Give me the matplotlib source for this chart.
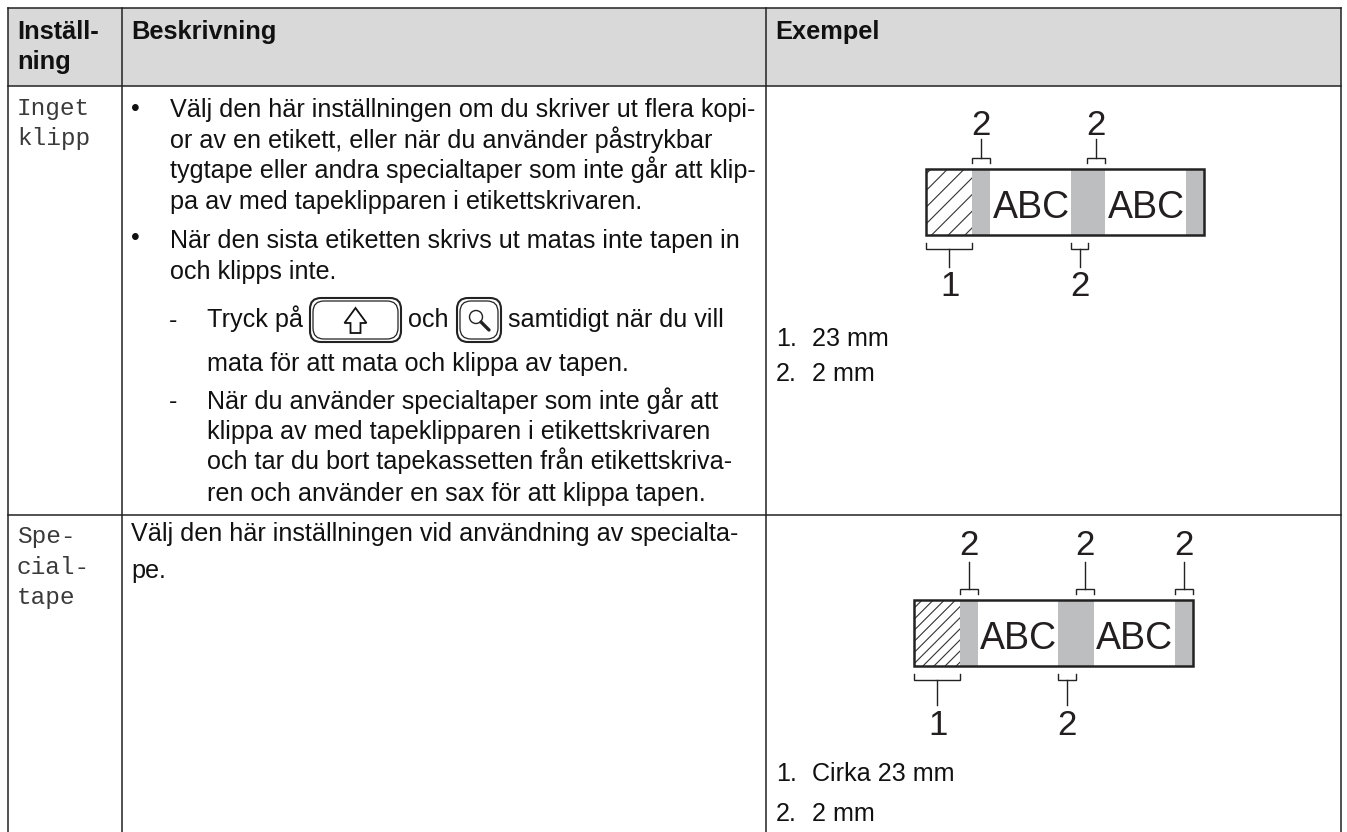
#!/usr/bin/env python3
"""Settings table with two label diagrams, drawn in pixel coordinates."""

import matplotlib
matplotlib.use("Agg")
import matplotlib.pyplot as plt
from matplotlib.patches import FancyBboxPatch, Rectangle, Polygon, Circle

plt.rcParams['font.family'] = ['Liberation Sans', 'DejaVu Sans']
plt.rcParams['hatch.linewidth'] = 0.8

W, H = 1347, 832

HEADERS = ["Inställ-\nning", "Beskrivning", "Exempel"]
ROW_NAMES = ["Inget\nklipp", "Spe-\ncial-\ntape"]

DESC_1A = ["Välj den här inställningen om du skriver ut flera kopi-",
           "or av en etikett, eller när du använder påstrykbar",
           "tygtape eller andra specialtaper som inte går att klip-",
           "pa av med tapeklipparen i etikettskrivaren."]
DESC_1B = ["När den sista etiketten skrivs ut matas inte tapen in",
           "och klipps inte."]
DESC_1C = ["När du använder specialtaper som inte går att",
           "klippa av med tapeklipparen i etikettskrivaren",
           "och tar du bort tapekassetten från etikettskriva-",
           "ren och använder en sax för att klippa tapen."]
DESC_2 = ["Välj den här inställningen vid användning av specialta-", "pe."]
NOTES_1 = [("1.", "23 mm"), ("2.", "2 mm")]
NOTES_2 = [("1.", "Cirka 23 mm"), ("2.", "2 mm")]

# diagram layout: box, gray stripes, text centres, bracket spans
BOX_1 = (926, 169, 1204, 235)
BOX_2 = (914, 600, 1193, 666)
GRAY_1 = [(972, 990), (1071, 1105), (1186, 1204)]
GRAY_2 = [(960, 978), (1058, 1094), (1175, 1193)]
ABC_1 = [1031, 1146]
ABC_2 = [1018, 1134]
TOP_2_1 = [(972, 990), (1087, 1105)]
TOP_2_2 = [(960, 978), (1076, 1094), (1175, 1193)]
BOT_2_1 = (1071, 1088)
BOT_2_2 = (1058, 1076)

TEXT = '#111111'
FS = 18.1
HEAD_FS = 18.3
LINE = '#222222'


def label_text(ax, x, y, s, **kw):
    kw.setdefault('fontsize', FS)
    kw.setdefault('color', TEXT)
    kw.setdefault('va', 'baseline')
    ax.text(x, y, s, **kw)


def bracket(ax, x0, x1, y_bar, y_tip, y_end):
    """Small bracket with a stem going up or down to its number."""
    mid = (x0 + x1) / 2
    ax.plot([x0, x0, x1, x1], [y_tip, y_bar, y_bar, y_tip], color=LINE, lw=1, solid_joinstyle='miter')
    ax.plot([mid, mid], [y_bar, y_end], color=LINE, lw=1)


def key_frame(ax, x0, y0, x1, y1):
    for pad, lw in ((0, 1.5), (3, 0.9)):
        ax.add_patch(FancyBboxPatch((x0 + pad + 8, y0 + pad + 8), x1 - x0 - 2 * pad - 16, y1 - y0 - 2 * pad - 16,
                                    boxstyle="round,pad=8,rounding_size=11", fc='white', ec='#222222', lw=lw))


def key_shift(ax, x0, y0, x1, y1):
    key_frame(ax, x0, y0, x1, y1)
    cx = (x0 + x1) / 2
    cy = (y0 + y1) / 2
    arrow = [(cx, cy - 12), (cx + 11, cy + 3), (cx + 5, cy + 3), (cx + 5, cy + 13),
             (cx - 5, cy + 13), (cx - 5, cy + 3), (cx - 11, cy + 3)]
    ax.add_patch(Polygon(arrow, closed=True, fc='white', ec='#111111', lw=1.3))


def key_search(ax, x0, y0, x1, y1):
    key_frame(ax, x0, y0, x1, y1)
    cx = (x0 + x1) / 2 - 3
    cy = (y0 + y1) / 2 - 3
    ax.add_patch(Circle((cx, cy), 6.5, fc='white', ec='#222222', lw=1))
    ax.plot([cx + 5, cx + 13], [cy + 5, cy + 13], color='#222222', lw=2.4, solid_capstyle='round')


def diagram(ax, box, gray, abc, top, bottom, hatch, top_end, bot_end, y_abc, y_top_num, y_bot_num):
    x0, y0, x1, y1 = box
    hatch_end = gray[0][0]
    ax.add_patch(Rectangle((x0, y0), hatch_end - x0, y1 - y0, fc='white', ec='#333333', lw=0, hatch=hatch, zorder=2))
    for a, b in gray:
        ax.add_patch(Rectangle((a, y0), b - a, y1 - y0, fc='#bcbec0', ec='none', zorder=3))
    ax.add_patch(Rectangle((x0, y0), x1 - x0, y1 - y0, fc='none', ec='#222222', lw=1.8, zorder=4))
    for x in abc:
        label_text(ax, x, y_abc, "ABC", fontsize=27, color='#231f20', ha='center', zorder=5)
    for a, b in top:
        bracket(ax, a, b, y0 - 11, y0 - 6, top_end)
        label_text(ax, (a + b) / 2, y_top_num, "2", fontsize=25, color='#231f20', ha='center')
    a, b = bottom
    bracket(ax, a, b, y1 + 14, y1 + 8, bot_end)
    label_text(ax, (a + b) / 2, y_bot_num, "2", fontsize=25, color='#231f20', ha='center')
    bracket(ax, x0, hatch_end, y1 + 14, y1 + 8, bot_end)
    label_text(ax, (x0 + hatch_end) / 2 + 1, y_bot_num, "1", fontsize=25, color='#231f20', ha='center')


def main():
    fig = plt.figure(figsize=(W / 100, H / 100), dpi=100)
    ax = fig.add_axes([0, 0, 1, 1])
    ax.set_xlim(0, W)
    ax.set_ylim(H, 0)
    ax.axis('off')

    # table frame
    ax.add_patch(Rectangle((8, 8), 1333, 78, fc='#d9d9d9', ec='none'))
    for y in (8, 86, 515):
        ax.plot([8, 1341], [y, y], color='#222222', lw=1.1)
    for x in (8, 122, 766, 1341):
        ax.plot([x, x], [8, H], color='#222222', lw=1.1)

    # header
    first = HEADERS[0].split("\n")
    label_text(ax, 17, 39, first[0], fontweight='bold', fontsize=HEAD_FS)
    label_text(ax, 17, 69, first[1], fontweight='bold', fontsize=HEAD_FS)
    label_text(ax, 131, 39, HEADERS[1], fontweight='bold', fontsize=HEAD_FS)
    label_text(ax, 775, 39, HEADERS[2], fontweight='bold', fontsize=HEAD_FS)

    # first column
    for y, s in zip((115, 145), ROW_NAMES[0].split("\n")):
        label_text(ax, 17, y, s, family='Liberation Mono', fontsize=17.6, color='#3a3a3a')
    for y, s in zip((543, 574, 604), ROW_NAMES[1].split("\n")):
        label_text(ax, 17, y, s, family='Liberation Mono', fontsize=17.6, color='#3a3a3a')

    # description, row 1
    label_text(ax, 131, 116, "•")
    for y, s in zip((117, 148, 178, 209), DESC_1A):
        label_text(ax, 170, y, s)
    label_text(ax, 131, 245, "•")
    for y, s in zip((248, 279), DESC_1B):
        label_text(ax, 170, y, s)

    label_text(ax, 169, 328, "-")
    label_text(ax, 207, 327, "Tryck på")
    key_shift(ax, 310, 298, 401, 342)
    label_text(ax, 408, 327, "och")
    key_search(ax, 457, 298, 501, 342)
    label_text(ax, 508, 327, "samtidigt när du vill")
    label_text(ax, 207, 371, "mata för att mata och klippa av tapen.")

    label_text(ax, 169, 409, "-")
    for y, s in zip((409, 439, 469, 501), DESC_1C):
        label_text(ax, 207, y, s)

    # description, row 2
    for y, s in zip((541, 578), DESC_2):
        label_text(ax, 131, y, s)

    # example column
    diagram(ax, BOX_1, GRAY_1, ABC_1, TOP_2_1, BOT_2_1, '//', 139, 267, 218, 135, 296)
    diagram(ax, BOX_2, GRAY_2, ABC_2, TOP_2_2, BOT_2_2, '///', 562, 705, 649, 555, 735)
    for y, (n, s) in zip((346, 381), NOTES_1):
        label_text(ax, 776, y, n)
        label_text(ax, 812, y, s)
    for y, (n, s) in zip((781, 821), NOTES_2):
        label_text(ax, 776, y, n)
        label_text(ax, 812, y, s)

    fig.savefig("out.png", dpi=100)


if __name__ == "__main__":
    main()
